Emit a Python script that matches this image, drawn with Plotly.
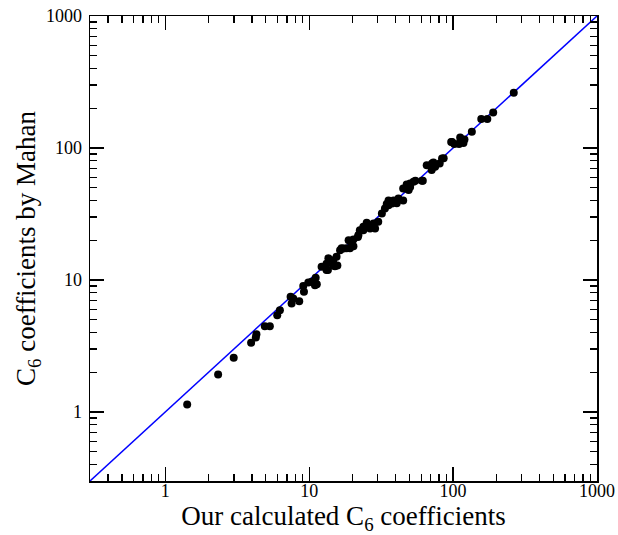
import math
import plotly.graph_objects as go

# Our calculated C6 coefficients (x) vs C6 coefficients by Mahan (y)
calc_c6 = [1.42, 2.33, 2.99, 3.95, 4.26, 4.30, 4.92, 5.33, 6.0, 6.26,
           7.43, 7.55, 7.75, 8.53, 9.1, 9.2, 9.86, 10.4, 10.97, 11.1,
           11.3, 12.2, 12.9, 13.2, 13.2, 13.5, 13.6, 14.7, 14.7, 15.1,
           15.5, 15.7, 16.4, 16.8, 17.3, 18.2, 18.8, 19.2, 19.8, 20.3,
           20.3, 21.8, 22.0, 22.5, 23.8, 23.8, 24.4, 25.1, 26.5, 28.0,
           28.0, 28.7, 30.2, 32.0, 33.6, 34.6, 35.6, 35.6, 37.6, 38.6,
           39.6, 40.6, 41.7, 45.0, 45.0, 46.5, 47.6, 47.8, 49.1, 50.3,
           50.3, 53.1, 54.7, 60.8, 61.6, 65.6, 71.0, 71.4, 73.0, 75.0,
           80.7, 83.8, 86.0, 97.0, 98.4, 102, 110, 112, 112, 118,
           120, 135, 157, 173, 190, 264]
mahan_c6 = [1.14, 1.92, 2.58, 3.34, 3.66, 3.88, 4.47, 4.47, 5.41, 5.9,
            7.45, 6.64, 7.24, 6.9, 9.0, 8.13, 9.57, 9.68, 9.13, 10.4,
            9.29, 12.6, 12.6, 11.9, 13.3, 11.9, 14.6, 12.9, 14.1, 12.7,
            15.0, 12.9, 16.8, 17.4, 17.3, 17.4, 20.0, 17.4, 18.9, 18.0,
            20.3, 21.2, 21.9, 23.8, 23.8, 25.3, 25.3, 27.2, 24.6, 26.0,
            26.8, 24.6, 27.6, 31.9, 34.8, 37.6, 36.9, 40.1, 38.0, 40.1,
            39.1, 38.1, 41.5, 49.4, 40.1, 49.4, 52.8, 52.3, 48.0, 50.7,
            53.9, 55.5, 56.5, 56.4, 56.5, 74.0, 68.0, 76.4, 77.8, 72.0,
            76.4, 83.4, 83.8, 111, 111, 107, 107, 120, 111, 109,
            116, 133, 166, 166, 186, 262]

# y = x reference line
line_x = [0.3, 1000]
line_y = [0.3, 1000]

tick_vals = [1, 10, 100, 1000]
tick_text = ["1", "10", "100", "1000"]

FONT = "Liberation Serif, Times New Roman, serif"

fig = go.Figure()
fig.add_trace(go.Scatter(x=line_x, y=line_y, mode="lines",
                         line=dict(color="#0000ff", width=1.5),
                         showlegend=False, hoverinfo="skip"))
fig.add_trace(go.Scatter(x=calc_c6, y=mahan_c6, mode="markers",
                         marker=dict(color="black", size=8, line=dict(width=0)),
                         showlegend=False))

axis_common = dict(
    type="log",
    range=[math.log10(0.3), 3],
    tickmode="array",
    tickvals=tick_vals,
    ticktext=tick_text,
    ticks="inside",
    ticklen=14,
    tickwidth=1.3,
    tickcolor="black",
    showline=True,
    linecolor="black",
    linewidth=1.5,
    mirror="allticks",
    showgrid=False,
    zeroline=False,
    automargin=False,
    tickfont=dict(family=FONT, size=18, color="black"),
    minor=dict(ticks="inside", ticklen=7, tickwidth=1.3, tickcolor="black",
               dtick="D1", showgrid=False),
)

fig.update_xaxes(**axis_common,
                 ticklabelstandoff=-7,
                 title=dict(text="Our calculated C<sub>6</sub> coefficients",
                            font=dict(family=FONT, size=27, color="black"),
                            standoff=6))
fig.update_yaxes(**axis_common,
                 ticklabelstandoff=3,
                 title=dict(text="C<sub>6</sub> coefficients by Mahan",
                            font=dict(family=FONT, size=27, color="black"),
                            standoff=2))

fig.update_layout(
    width=618, height=535,
    margin=dict(l=90, r=21, t=16, b=54),
    paper_bgcolor="white",
    plot_bgcolor="white",
    font=dict(family=FONT, color="black"),
)

fig.write_html(
    "out.html",
    config={"displayModeBar": False, "staticPlot": True},
    post_script="document.body.style.margin='0';document.body.style.padding='0';"
                "document.body.style.overflow='hidden';",
)
